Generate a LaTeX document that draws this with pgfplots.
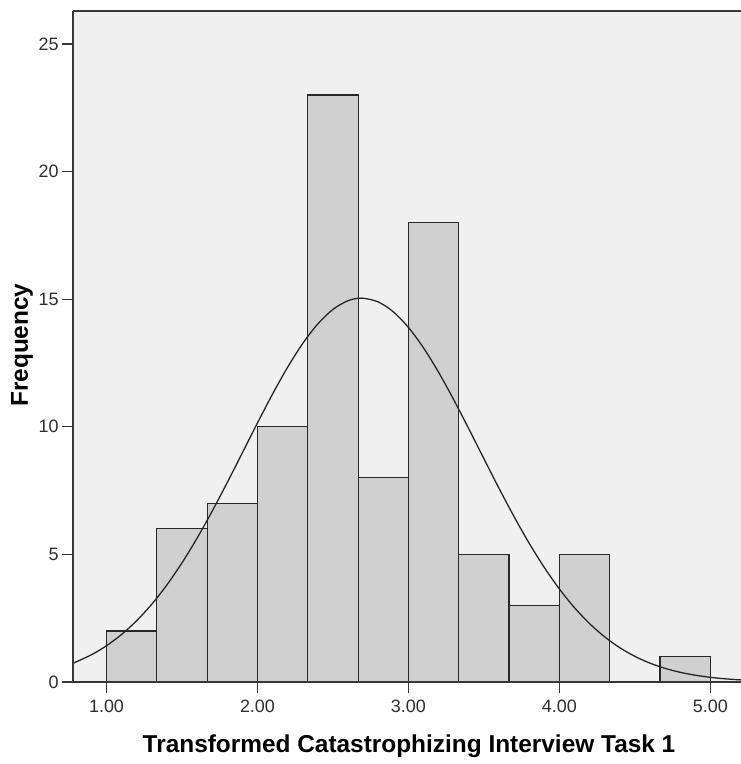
\documentclass[border=0pt]{standalone}
\usepackage{fontspec}
\setmainfont{Liberation Sans}
\usepackage{pgfplots}
\pgfplotsset{compat=1.18}
\definecolor{plotbg}{RGB}{240,240,240}
\definecolor{barfill}{RGB}{208,208,208}
\definecolor{edgecol}{RGB}{40,40,40}
\definecolor{axcol}{RGB}{55,55,55}
\definecolor{tickcol}{RGB}{45,45,45}

\begin{document}
\begin{tikzpicture}
\begin{axis}[
  at={(0,0)}, anchor=south west,
  scale only axis, width=668bp, height=671bp,
  xmin=0.778, xmax=5.203, ymin=0, ymax=26.29,
  axis lines*=left,
  axis line style={-, draw=axcol, line width=1.6bp},
  axis background/.style={fill=plotbg},
  axis on top,
  xtick={1,2,3,4,5}, ytick={0,5,10,15,20,25},
  tick align=outside, major tick length=11bp,
  tick style={draw=axcol, line width=1.2bp},
  /pgf/number format/assume math mode=true,
  ticklabel style={font=\fontsize{18}{18}\selectfont, text=tickcol},
  xticklabel style={yshift=-3.5bp, /pgf/number format/.cd, fixed, fixed zerofill, precision=2},
  xlabel={Transformed Catastrophizing Interview Task 1},
  ylabel={Frequency},
  label style={font=\fontsize{24.5}{24.5}\selectfont\bfseries},
  xlabel style={at={(axis description cs:0.503,0)}, anchor=base, yshift=-70bp},
  ylabel style={at={(axis description cs:0,0.502)}, anchor=base, yshift=45bp},
]
% histogram (bin width 1/3)
\addplot[ybar interval, fill=barfill, draw=edgecol, line width=1.2bp]
  coordinates {
    (1.0000,2) (1.3333,6) (1.6667,7) (2.0000,10) (2.3333,23) (2.6667,8)
    (3.0000,18) (3.3333,5) (3.6667,3) (4.0000,5) (4.3333,0) (4.6667,1)
    (5.0000,1)
  };
% normal curve
\addplot[smooth, black!85, line width=1.3bp, mark=none]
  coordinates {
    (0.78,0.739) (0.9,1.066) (1.0,1.421) (1.1,1.864) (1.2,2.403) (1.3,3.049)
    (1.4,3.804) (1.5,4.669) (1.6,5.637) (1.7,6.693) (1.8,7.818) (1.9,8.982)
    (2.0,10.150) (2.1,11.282) (2.2,12.335) (2.3,13.265) (2.4,14.031)
    (2.5,14.598) (2.6,14.940) (2.69,15.04) (2.8,14.890) (2.9,14.502)
    (3.0,13.892) (3.1,13.090) (3.2,12.132) (3.3,11.060) (3.4,9.918)
    (3.5,8.748) (3.6,7.589) (3.7,6.476) (3.8,5.435) (3.9,4.487) (4.0,3.644)
    (4.1,2.911) (4.2,2.287) (4.3,1.768) (4.4,1.344) (4.5,1.004) (4.6,0.739)
    (4.7,0.534) (4.8,0.380) (4.9,0.266) (5.0,0.183) (5.1,0.124) (5.21,0.079)
  };
\draw[axcol, line width=1.6bp] (rel axis cs:0,1) -- (rel axis cs:1,1);
\end{axis}
\pgfresetboundingbox
\path (-73bp,-82bp) rectangle (668bp,682bp);
\end{tikzpicture}
\end{document}
